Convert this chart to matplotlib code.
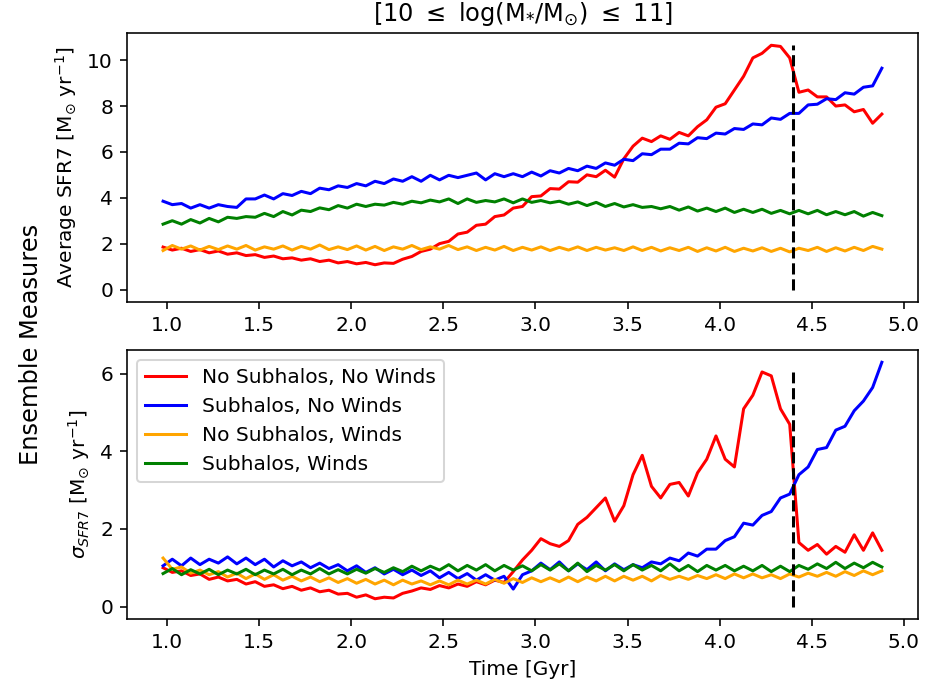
import numpy as np
import matplotlib
matplotlib.use("Agg")
from matplotlib import pyplot as plt

# snapshot times [Gyr]
time = np.linspace(0.98, 4.88, 79)
t_cut = 4.4

# ensemble average SFR7 [Msun/yr]
avg_nsnw = [1.85, 1.72, 1.80, 1.66, 1.74, 1.60, 1.68, 1.54, 1.60, 1.48,
            1.52, 1.40, 1.46, 1.34, 1.38, 1.28, 1.34, 1.22, 1.28, 1.16,
            1.22, 1.12, 1.18, 1.08, 1.16, 1.14, 1.32, 1.44, 1.66, 1.76,
            2.00, 2.10, 2.42, 2.50, 2.80, 2.85, 3.18, 3.25, 3.55, 3.62,
            4.05, 4.08, 4.40, 4.38, 4.70, 4.68, 5.00, 4.92, 5.20, 4.90,
            5.70, 6.25, 6.60, 6.45, 6.70, 6.55, 6.85, 6.70, 7.10, 7.40,
            7.95, 8.10, 8.70, 9.30, 10.10, 10.30, 10.65, 10.60, 10.10, 8.60,
            8.70, 8.40, 8.40, 8.00, 8.05, 7.75, 7.85, 7.25, 7.65]
avg_snw = [3.85, 3.70, 3.75, 3.55, 3.70, 3.55, 3.70, 3.62, 3.58, 3.95,
           3.95, 4.12, 3.95, 4.18, 4.10, 4.28, 4.18, 4.42, 4.35, 4.52,
           4.45, 4.62, 4.52, 4.72, 4.62, 4.82, 4.72, 4.92, 4.72, 4.98,
           4.78, 4.98, 4.88, 4.98, 5.08, 4.78, 5.05, 4.92, 5.05, 4.92,
           5.12, 4.95, 5.18, 5.08, 5.28, 5.18, 5.38, 5.28, 5.52, 5.42,
           5.68, 5.62, 5.92, 5.88, 6.12, 6.12, 6.38, 6.35, 6.62, 6.58,
           6.82, 6.78, 7.02, 6.98, 7.22, 7.18, 7.48, 7.42, 7.68, 7.68,
           8.05, 8.08, 8.32, 8.28, 8.58, 8.52, 8.82, 8.88, 9.65]
avg_nsw = [1.70, 1.92, 1.76, 1.90, 1.72, 1.88, 1.74, 1.90, 1.76, 1.92,
           1.72, 1.86, 1.76, 1.90, 1.72, 1.88, 1.76, 1.94, 1.74, 1.86,
           1.74, 1.90, 1.72, 1.88, 1.70, 1.86, 1.76, 1.92, 1.74, 1.86,
           1.76, 1.92, 1.74, 1.86, 1.70, 1.84, 1.72, 1.88, 1.70, 1.84,
           1.72, 1.86, 1.70, 1.84, 1.72, 1.86, 1.70, 1.84, 1.72, 1.82,
           1.70, 1.86, 1.70, 1.84, 1.68, 1.82, 1.70, 1.84, 1.66, 1.82,
           1.68, 1.84, 1.66, 1.80, 1.68, 1.82, 1.66, 1.80, 1.64, 1.80,
           1.70, 1.84, 1.66, 1.82, 1.68, 1.84, 1.70, 1.88, 1.76]
avg_sw = [2.85, 3.00, 2.85, 3.05, 2.90, 3.10, 2.95, 3.15, 3.10, 3.18,
          3.15, 3.32, 3.18, 3.40, 3.25, 3.46, 3.40, 3.56, 3.48, 3.66,
          3.55, 3.72, 3.62, 3.72, 3.68, 3.80, 3.72, 3.85, 3.78, 3.90,
          3.82, 3.95, 3.75, 3.95, 3.80, 3.88, 3.82, 3.95, 3.78, 3.95,
          3.80, 3.88, 3.78, 3.85, 3.72, 3.82, 3.66, 3.80, 3.62, 3.75,
          3.60, 3.70, 3.58, 3.62, 3.52, 3.62, 3.46, 3.60, 3.42, 3.55,
          3.40, 3.55, 3.36, 3.50, 3.36, 3.50, 3.32, 3.45, 3.30, 3.45,
          3.30, 3.45, 3.26, 3.40, 3.26, 3.40, 3.20, 3.36, 3.22]

# ensemble scatter of SFR7 [Msun/yr]
sig_nsnw = [1.00, 0.88, 0.92, 0.80, 0.84, 0.70, 0.76, 0.66, 0.70, 0.58,
            0.64, 0.52, 0.56, 0.46, 0.52, 0.42, 0.48, 0.38, 0.42, 0.32,
            0.34, 0.24, 0.30, 0.20, 0.24, 0.22, 0.34, 0.40, 0.48, 0.44,
            0.54, 0.48, 0.58, 0.52, 0.64, 0.56, 0.68, 0.62, 0.90, 1.20,
            1.45, 1.75, 1.62, 1.55, 1.70, 2.12, 2.30, 2.55, 2.80, 2.20,
            2.60, 3.40, 3.90, 3.10, 2.80, 3.15, 3.20, 2.85, 3.45, 3.80,
            4.40, 3.80, 3.60, 5.10, 5.45, 6.05, 5.95, 5.10, 4.70, 1.65,
            1.45, 1.60, 1.35, 1.55, 1.40, 1.85, 1.45, 1.90, 1.45]
sig_snw = [1.05, 1.22, 1.05, 1.25, 1.08, 1.22, 1.12, 1.28, 1.10, 1.25,
           1.08, 1.22, 1.02, 1.18, 1.05, 1.15, 1.00, 1.12, 0.98, 1.08,
           0.92, 1.05, 0.88, 1.00, 0.84, 0.96, 0.82, 0.94, 0.80, 0.92,
           0.74, 0.88, 0.72, 0.85, 0.68, 0.82, 0.68, 0.78, 0.45, 0.82,
           0.92, 1.12, 0.95, 1.15, 0.92, 1.10, 0.95, 1.15, 0.92, 1.10,
           0.95, 1.08, 1.00, 1.15, 1.10, 1.25, 1.18, 1.38, 1.30, 1.48,
           1.48, 1.70, 1.80, 2.15, 2.10, 2.35, 2.45, 2.80, 2.90, 3.40,
           3.60, 4.05, 4.10, 4.55, 4.65, 5.05, 5.30, 5.65, 6.30]
sig_nsw = [1.25, 0.96, 1.02, 0.86, 0.94, 0.82, 0.90, 0.76, 0.86, 0.72,
           0.84, 0.70, 0.82, 0.68, 0.78, 0.66, 0.76, 0.64, 0.74, 0.62,
           0.72, 0.60, 0.70, 0.58, 0.68, 0.56, 0.68, 0.58, 0.66, 0.56,
           0.66, 0.56, 0.68, 0.58, 0.68, 0.58, 0.70, 0.60, 0.72, 0.62,
           0.74, 0.64, 0.74, 0.64, 0.76, 0.64, 0.76, 0.66, 0.78, 0.66,
           0.78, 0.68, 0.78, 0.66, 0.80, 0.70, 0.78, 0.70, 0.80, 0.72,
           0.82, 0.72, 0.84, 0.74, 0.84, 0.74, 0.82, 0.72, 0.84, 0.76,
           0.86, 0.78, 0.88, 0.78, 0.90, 0.80, 0.92, 0.82, 0.92]
sig_sw = [0.85, 0.98, 0.82, 0.95, 0.84, 0.96, 0.82, 0.94, 0.84, 0.96,
          0.82, 0.94, 0.84, 0.96, 0.82, 0.94, 0.84, 0.98, 0.84, 0.95,
          0.84, 0.96, 0.86, 0.98, 0.88, 1.00, 0.90, 1.04, 0.92, 1.04,
          0.94, 1.08, 0.92, 1.06, 0.94, 1.08, 0.92, 1.06, 0.94, 1.05,
          0.92, 1.08, 0.94, 1.10, 0.92, 1.12, 0.90, 1.06, 0.94, 1.08,
          0.92, 1.08, 0.94, 1.06, 0.92, 1.10, 0.92, 1.06, 0.90, 1.06,
          0.94, 1.06, 0.92, 1.04, 0.92, 1.06, 0.90, 1.04, 0.90, 1.06,
          0.96, 1.10, 0.98, 1.14, 0.98, 1.12, 1.00, 1.14, 1.02]

labels = ['No Subhalos, No Winds', 'Subhalos, No Winds',
          'No Subhalos, Winds', 'Subhalos, Winds']
colors = ['red', 'blue', 'orange', 'green']

fig, (ax1, ax2) = plt.subplots(2, 1, figsize=(928/145, 689/145), dpi=145)
fig.subplots_adjust(left=0.137, right=0.989, top=0.952, bottom=0.102, hspace=0.18)

################ average #################
for y, c, l in zip([avg_nsnw, avg_snw, avg_nsw, avg_sw], colors, labels):
    ax1.plot(time, y, color=c, label=l)
ax1.vlines(t_cut, 0, max(avg_nsnw), colors='k', linestyles='dashed')
ax1.set_ylabel(r'Average SFR7 [M$_{\odot}$ yr$^{-1}$]')
ax1.set_title(r'[10 $\leq$ log(M$_{*}$/M$_{\odot}$) $\leq$ 11]')
ax1.set_xticks(np.arange(1.0, 5.01, 0.5))

################ scatter #################
for y, c, l in zip([sig_nsnw, sig_snw, sig_nsw, sig_sw], colors, labels):
    ax2.plot(time, y, color=c, label=l)
ax2.vlines(t_cut, 0, max(sig_nsnw), colors='k', linestyles='dashed')
ax2.set_ylabel(r'$\sigma_{SFR7}$ [M$_{\odot}$ yr$^{-1}$]')
ax2.set_xlabel('Time [Gyr]')
ax2.set_xticks(np.arange(1.0, 5.01, 0.5))
ax2.legend(loc='upper left')

fig.supylabel('Ensemble Measures', x=0.02)
fig.savefig('out.png', dpi=145)
